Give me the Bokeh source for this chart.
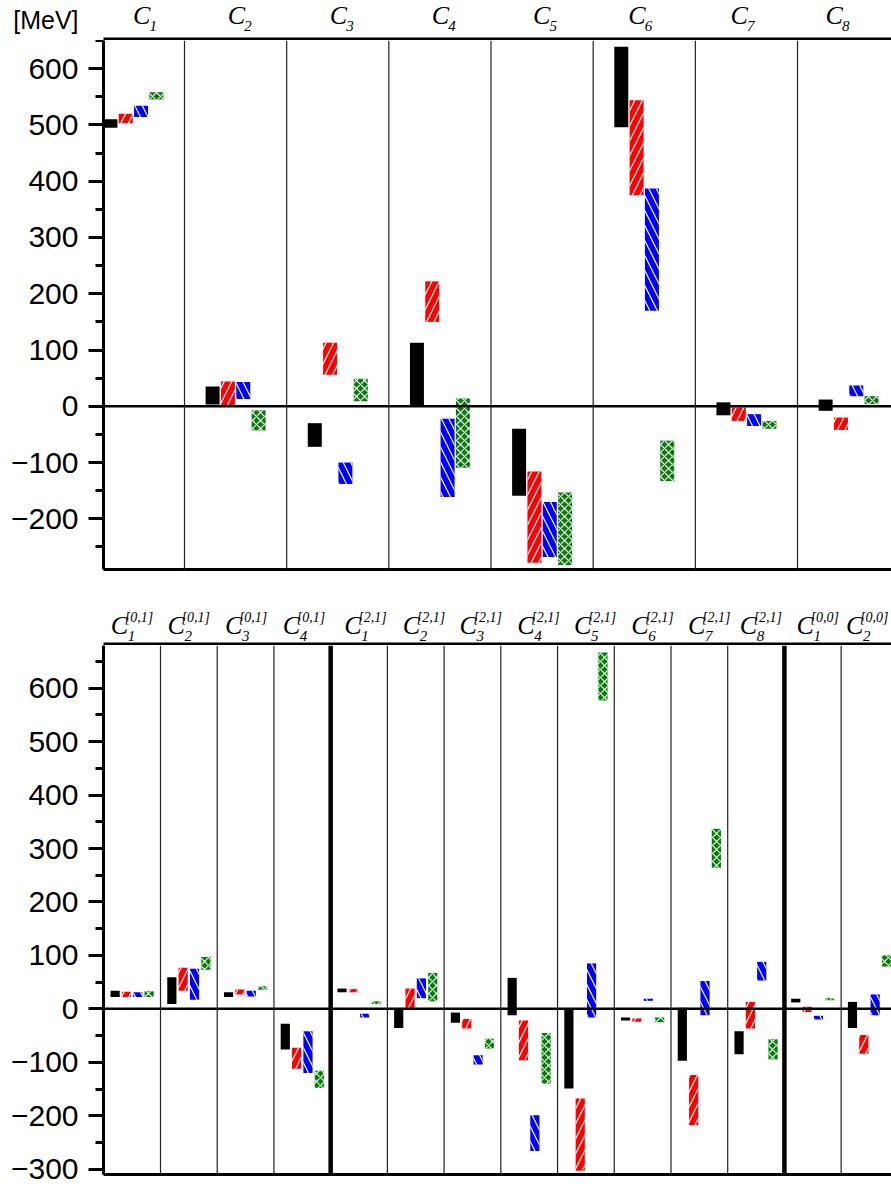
from bokeh.plotting import figure
from bokeh.models import Span, Label, FixedTicker, Range1d
from bokeh.layouts import column
from bokeh.embed import file_html
from bokeh.resources import INLINE

# ---------------- data ----------------
top_subscripts = ["1", "2", "3", "4", "5", "6", "7", "8"]
# floating bars: (bottom, top) per category, one list pair per series
top_black_lo = [495, 3, -72, 0, -159, 496, -16, -8]
top_black_hi = [510, 35, -30, 113, -40, 639, 7, 12]
top_red_lo = [503, 2, 56, 150, -278, 375, -26, -42]
top_red_hi = [520, 44, 113, 222, -116, 544, -2, -20]
top_blue_lo = [514, 13, -138, -161, -268, 170, -35, 18]
top_blue_hi = [534, 43, -100, -22, -170, 387, -14, 37]
top_green_lo = [545, -43, 9, -109, -282, -133, -40, 4]
top_green_hi = [558, -7, 49, 14, -153, -61, -26, 18]

bot_superscripts = ["[0,1]"] * 4 + ["[2,1]"] * 8 + ["[0,0]"] * 2
bot_subscripts = ["1", "2", "3", "4", "1", "2", "3", "4", "5", "6", "7", "8", "1", "2"]
bot_black_lo = [22, 9, 22, -76, 31, -36, -26, -12, -149, -22, -97, -85, 12, -36]
bot_black_hi = [34, 59, 31, -28, 38, 0, -7, 58, 0, -16, 2, -42, 19, 13]
bot_red_lo = [22, 34, 27, -112, 31, 2, -37, -96, -303, -24, -218, -37, -6, -84]
bot_red_hi = [32, 77, 36, -73, 37, 38, -19, -22, -168, -18, -124, 13, 4, -49]
bot_blue_lo = [22, 17, 23, -120, -16, 20, -104, -266, -16, 15, -12, 53, -20, -12]
bot_blue_hi = [31, 75, 34, -42, -9, 57, -87, -199, 85, 19, 52, 88, -13, 27]
bot_green_lo = [22, 73, 36, -148, 9, 14, -74, -140, 577, -25, 264, -95, 16, 79]
bot_green_hi = [33, 97, 42, -116, 14, 67, -56, -45, 667, -16, 337, -57, 20, 100]

top_ticks = [-200, -100, 0, 100, 200, 300, 400, 500, 600]
top_minor = [-250, -150, -50, 50, 150, 250, 350, 450, 550, 650]
bot_ticks = [-300, -200, -100, 0, 100, 200, 300, 400, 500, 600]
bot_minor = [-250, -150, -50, 50, 150, 250, 350, 450, 550, 650]
unit = "[MeV]"

# ---------------- style / layout ----------------
COLORS = ["#000000", "#ff0000", "#0000ff", "#008000"]
HATCH = [None, "/", "\\", "x"]
HATCH_SCALE = [None, 15, 15, 8]
SERIF = "Liberation Serif"
SANS = "Liberation Sans"
W = 891
LEFT = 103          # frame left edge in px
FRAME_W = W - LEFT

TOP_PPU = 102.17    # px per category, top panel
BOT_PPU = 56.72     # px per category, bottom panel
top_x0 = 1.5 - 81 / TOP_PPU
bot_x0 = 1.5 - 57 / BOT_PPU
top_xr = (top_x0, top_x0 + FRAME_W / TOP_PPU)
bot_xr = (bot_x0, bot_x0 + FRAME_W / BOT_PPU)
BASE_FIX = 0.32     # baseline correction (fraction of font size)


def make_header(height, xr, ppu):
    start = xr[0] - LEFT / ppu
    h = figure(width=W, height=height, x_range=Range1d(start, xr[1]), y_range=Range1d(0, height),
               output_backend="svg", toolbar_location=None, title=None,
               x_axis_location=None, y_axis_location=None, frame_align=False,
               min_border_left=0, min_border_right=0, min_border_top=0, min_border_bottom=0,
               outline_line_color=None)
    h.xgrid.visible = False
    h.ygrid.visible = False
    # frame top line of the panel below
    h.segment(x0=[xr[0]], x1=[xr[1]], y0=[1.5], y1=[1.5], line_color="black", line_width=3)
    return h


def make_fig(height, xr, yr, border_bottom, ticks, minor):
    p = figure(width=W, height=height, x_range=Range1d(*xr), y_range=Range1d(*yr),
               output_backend="svg", toolbar_location=None, title=None, frame_align=False,
               min_border_left=LEFT, min_border_right=0,
               min_border_top=0, min_border_bottom=border_bottom,
               outline_line_color=None)
    p.xgrid.visible = False
    p.ygrid.visible = False
    xa = p.xaxis[0]
    xa.ticker = FixedTicker(ticks=[])
    xa.major_label_text_font_size = "0px"
    xa.major_tick_line_color = None
    xa.minor_tick_line_color = None
    xa.major_tick_out = 0
    xa.minor_tick_out = 0
    xa.major_label_standoff = 0
    xa.axis_line_width = 3
    xa.axis_line_color = "black"
    ax = p.yaxis[0]
    ax.ticker = FixedTicker(ticks=ticks, minor_ticks=minor)
    ax.major_label_text_font = SANS
    ax.major_label_text_font_size = "30px"
    ax.major_label_text_color = "black"
    ax.axis_line_width = 3
    ax.axis_line_color = "black"
    ax.major_tick_line_width = 3
    ax.minor_tick_line_width = 3
    ax.major_tick_line_color = "black"
    ax.minor_tick_line_color = "black"
    ax.major_tick_out = 15
    ax.major_tick_in = 0
    ax.minor_tick_out = 8
    ax.minor_tick_in = 0
    ax.major_label_standoff = 10
    p.add_layout(Span(location=0, dimension="width", line_color="black", line_width=2.5))
    return p


def add_bars(p, n, los, his, spacing, width):
    offs = [-1.5 * spacing, -0.5 * spacing, 0.5 * spacing, 1.5 * spacing]
    for k in range(4):
        xs = [i + 1 + offs[k] for i in range(n)]
        kw = dict(x=xs, bottom=los[k], top=his[k], width=width,
                  fill_color=COLORS[k], line_color=None)
        if HATCH[k]:
            kw.update(hatch_pattern=HATCH[k], hatch_color="white",
                      hatch_scale=HATCH_SCALE[k], hatch_weight=1.2)
        p.vbar(**kw)


def serif_label(fig, x, y, dx, text, size):
    fig.add_layout(Label(x=x, y=y + BASE_FIX * size, x_offset=dx, text=text,
                         text_font=SERIF, text_font_style="italic", text_font_size=f"{size}px",
                         text_align="left", text_baseline="alphabetic", text_color="black"))


# ---------------- top panel ----------------
h1 = make_header(40, top_xr, TOP_PPU)
top_dx = [-0.3, -7.8, -8, -8.3, -9, -16, -16, -23]
for i, sub in enumerate(top_subscripts):
    serif_label(h1, i + 1, 17, top_dx[i], "C", 26)
    serif_label(h1, i + 1, 10, top_dx[i] + 16.5, sub, 15)
h1.add_layout(Label(x=top_xr[0], y=11.7 + 0.36 * 25, x_offset=-25, text=unit, text_font=SANS,
                    text_font_size="25px", text_align="right", text_baseline="alphabetic",
                    text_color="black"))

p1 = make_fig(560, top_xr, (-290, 650), 31, top_ticks, top_minor)
n1 = len(top_subscripts)
for i in range(1, n1 + 1):
    p1.add_layout(Span(location=i + 0.5, dimension="height", line_color="#222222", line_width=1.2))
add_bars(p1, n1,
         [top_black_lo, top_red_lo, top_blue_lo, top_green_lo],
         [top_black_hi, top_red_hi, top_blue_hi, top_green_hi],
         0.15, 0.137)

# ---------------- bottom panel ----------------
h2 = make_header(45, bot_xr, BOT_PPU)
bot_dx = [-21.3, -21.3, -20.7, -19.6, -14.7, -13, -13, -12, -12, -11.3, -11.3, -16.4, -16.3, -23.5]
for i in range(len(bot_subscripts)):
    serif_label(h2, i + 1, 12, bot_dx[i], "C", 26)
    serif_label(h2, i + 1, 24, bot_dx[i] + 14, bot_superscripts[i], 14)
    serif_label(h2, i + 1, 5, bot_dx[i] + 17, bot_subscripts[i], 15)

p2 = make_fig(539, bot_xr, (-310, 680), 10, bot_ticks, bot_minor)
n2 = len(bot_subscripts)
thick = {4, 12}
for i in range(1, n2 + 1):
    if i in thick:
        p2.add_layout(Span(location=i + 0.5, dimension="height", line_color="black", line_width=4.5))
    else:
        p2.add_layout(Span(location=i + 0.5, dimension="height", line_color="#222222", line_width=1.2))
add_bars(p2, n2,
         [bot_black_lo, bot_red_lo, bot_blue_lo, bot_green_lo],
         [bot_black_hi, bot_red_hi, bot_blue_hi, bot_green_hi],
         0.2, 0.162)

layout = column(h1, p1, h2, p2, spacing=0)
open("out.html", "w").write(file_html(layout, INLINE))
